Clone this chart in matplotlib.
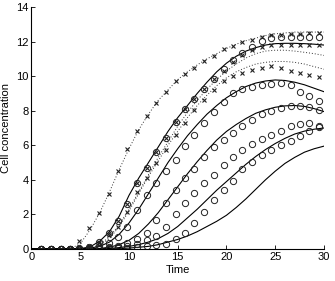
import matplotlib
matplotlib.use("Agg")
import matplotlib.pyplot as plt

# observation times (markers)
t_obs = [1.0, 2.0, 3.0, 3.9, 4.9, 5.9, 6.9, 7.9, 8.9, 9.8, 10.8, 11.8, 12.8, 13.8, 14.8,
         15.7, 16.7, 17.7, 18.7, 19.7, 20.7, 21.6, 22.6, 23.6, 24.6, 25.6, 26.6, 27.5, 28.5, 29.5]
# model times (lines)
t_mod = list(range(0, 31))

# x-marker data sets
x1 = [0, 0, 0, 0.05, 0.45, 1.2, 2.1, 3.2, 4.5, 5.8, 6.8, 7.7, 8.45, 9.1, 9.7,
      10.1, 10.45, 10.85, 11.15, 11.55, 11.75, 12.0, 12.1, 12.25, 12.4, 12.4, 12.45, 12.45, 12.5, 12.5]
x2 = [0, 0, 0, 0, 0.05, 0.1, 0.4, 0.95, 1.6, 2.6, 3.8, 4.7, 5.6, 6.45, 7.35,
      8.1, 8.67, 9.25, 9.83, 10.3, 10.8, 11.2, 11.5, 11.7, 11.8, 11.8, 11.8, 11.8, 11.8, 11.8]
x3 = [0, 0, 0, 0, 0.05, 0.15, 0.35, 0.8, 1.3, 2.16, 3.32, 4.09, 4.96, 5.73, 6.6,
      7.31, 8.05, 8.63, 9.17, 9.7, 9.98, 10.2, 10.36, 10.46, 10.56, 10.46, 10.32, 10.2, 10.07, 9.94]

# circle data sets
o1 = [0, 0, 0, 0, 0.05, 0.1, 0.4, 0.95, 1.6, 2.6, 3.8, 4.7, 5.6, 6.45, 7.35,
      8.1, 8.67, 9.25, 9.83, 10.4, 10.94, 11.33, 11.68, 12.06, 12.2, 12.25, 12.25, 12.25, 12.25, 12.25]
o2 = [0, 0, 0, 0, 0, 0.05, 0.15, 0.35, 0.7, 1.29, 2.26, 3.13, 3.84, 4.5, 5.15,
      5.96, 6.6, 7.28, 7.95, 8.53, 9.05, 9.25, 9.4, 9.5, 9.55, 9.6, 9.5, 9.1, 8.86, 8.59]
o3 = [0, 0, 0, 0, 0, 0, 0.05, 0.1, 0.2, 0.35, 0.55, 0.9, 1.68, 2.65, 3.42,
      4.09, 4.61, 5.34, 5.89, 6.3, 6.73, 7.12, 7.47, 7.8, 8.0, 8.15, 8.25, 8.3, 8.2, 8.05]
o4 = [0, 0, 0, 0, 0, 0, 0, 0.05, 0.1, 0.2, 0.3, 0.5, 0.75, 1.29, 2.03,
      2.68, 3.26, 3.8, 4.28, 4.86, 5.34, 5.73, 6.08, 6.35, 6.6, 6.85, 7.1, 7.25, 7.28, 7.1]
o5 = [0, 0, 0, 0, 0, 0, 0, 0, 0.05, 0.08, 0.12, 0.18, 0.22, 0.29, 0.56,
      0.94, 1.52, 2.16, 2.84, 3.41, 3.95, 4.61, 5.06, 5.44, 5.73, 6.02, 6.27, 6.54, 6.8, 7.05]

# dotted model curves
d1 = [0, 0, 0, 0, 0.02, 0.3, 1.1, 2.1, 3.3, 4.6, 5.8, 6.9, 7.8, 8.6, 9.2, 9.8,
      10.25, 10.65, 11.0, 11.3, 11.6, 11.85, 12.05, 12.2, 12.35, 12.45, 12.5, 12.55, 12.55, 12.55, 12.55]
d2 = [0, 0, 0, 0, 0, 0, 0.05, 0.25, 0.7, 1.4, 2.3, 3.3, 4.3, 5.3, 6.2, 7.1,
      7.9, 8.6, 9.25, 9.8, 10.3, 10.7, 11.05, 11.3, 11.45, 11.5, 11.5, 11.45, 11.38, 11.3, 11.2]
d3 = [0, 0, 0, 0, 0, 0, 0, 0.2, 0.6, 1.3, 2.2, 3.2, 4.2, 5.1, 6.0, 6.8,
      7.6, 8.3, 8.9, 9.45, 9.9, 10.25, 10.5, 10.7, 10.8, 10.85, 10.85, 10.8, 10.7, 10.55, 10.4]

# solid model curves
s1 = [0, 0, 0, 0, 0, 0.02, 0.12, 0.45, 1.0, 1.9, 3.1, 4.1, 5.0, 5.9, 6.8, 7.6,
      8.3, 9.0, 9.65, 10.25, 10.75, 11.15, 11.45, 11.65, 11.8, 11.88, 11.9, 11.9, 11.88, 11.85, 11.8]
s2 = [0, 0, 0, 0, 0, 0, 0.05, 0.15, 0.4, 0.85, 1.5, 2.3, 3.2, 4.1, 5.0, 5.8,
      6.55, 7.2, 7.8, 8.3, 8.75, 9.1, 9.4, 9.6, 9.72, 9.78, 9.75, 9.65, 9.5, 9.3, 9.1]
s3 = [0, 0, 0, 0, 0, 0, 0, 0.03, 0.1, 0.25, 0.5, 0.9, 1.45, 2.1, 2.85, 3.6,
      4.35, 5.05, 5.7, 6.3, 6.8, 7.2, 7.55, 7.85, 8.05, 8.2, 8.28, 8.3, 8.25, 8.12, 7.95]
s4 = [0, 0, 0, 0, 0, 0, 0, 0, 0.03, 0.08, 0.15, 0.25, 0.4, 0.6, 0.9, 1.3,
      1.8, 2.3, 2.85, 3.4, 3.9, 4.4, 4.9, 5.35, 5.75, 6.1, 6.4, 6.65, 6.82, 6.93, 7.0]
s5 = [0, 0, 0, 0, 0, 0, 0, 0, 0, 0.02, 0.05, 0.1, 0.15, 0.25, 0.4, 0.55,
      0.75, 1.0, 1.3, 1.6, 1.95, 2.4, 2.9, 3.45, 4.0, 4.5, 4.95, 5.3, 5.6, 5.8, 5.95]

xticks = [0, 5, 10, 15, 20, 25, 30]
yticks = [0, 2, 4, 6, 8, 10, 12, 14]

plt.rcParams['font.family'] = ['Liberation Sans', 'DejaVu Sans']

fig = plt.figure(figsize=(3.35, 2.81), dpi=100)
ax = fig.add_axes([0.094, 0.114, 0.873, 0.861])

for d in (d1, d2, d3):
    ax.plot(t_mod, d, color='#333333', linestyle=(0, (1, 2)), linewidth=0.7)
for s in (s1, s2, s3, s4, s5):
    ax.plot(t_mod, s, color='black', linestyle='-', linewidth=0.8)
for o in (o1, o2, o3, o4, o5):
    ax.plot(t_obs, o, linestyle='none', marker='o', markersize=4.5, markerfacecolor='none',
            markeredgecolor='#222222', markeredgewidth=0.7)
for x in (x1, x2, x3):
    ax.plot(t_obs, x, linestyle='none', marker='x', markersize=3, color='#222222',
            markeredgewidth=0.8)

ax.set_xlim(0, 30)
ax.set_ylim(0, 14)
ax.set_xticks(xticks)
ax.set_yticks(yticks)
ax.tick_params(direction='in', length=3, width=0.6, labelsize=8, pad=2)
for side in ('top', 'right'):
    ax.spines[side].set_visible(False)
for side in ('left', 'bottom'):
    ax.spines[side].set_linewidth(0.8)
ax.set_xlabel('Time', fontsize=8, labelpad=2)
ax.set_ylabel('Cell concentration', fontsize=8, labelpad=4)

fig.savefig('out.png', dpi=100)
